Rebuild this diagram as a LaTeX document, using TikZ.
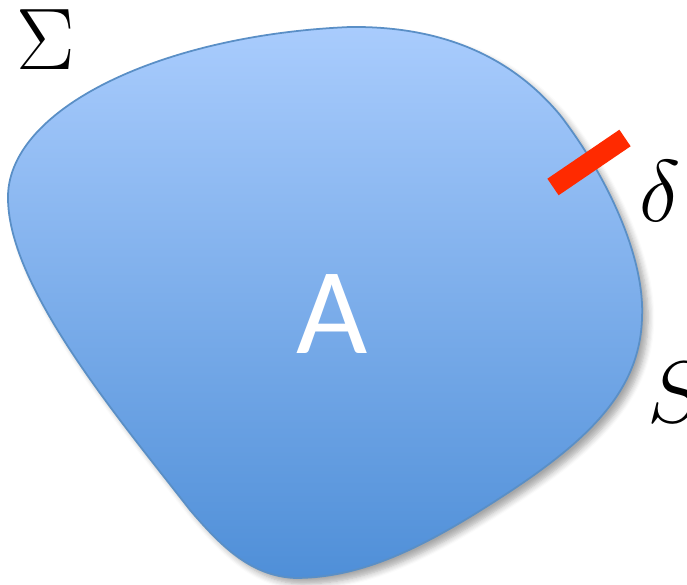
\documentclass[tikz,border=0pt]{standalone}
\usepackage{fontspec}
\usepackage{tikz}
\usetikzlibrary{calc,shadows.blur}
\newfontfamily\regionfont{Carlito}
\definecolor{blobtop}{HTML}{A9CCFD}
\definecolor{blobbot}{HTML}{4F8FD8}
\definecolor{blobline}{HTML}{5A8FC6}
\definecolor{cutred}{HTML}{FF2A00}
\tikzset{
  blob/.style={draw=blobline, line width=0.5pt, top color=blobtop,
               bottom color=blobbot,
               blur shadow={shadow xshift=0.6mm, shadow yshift=-0.6mm,
                            shadow blur steps=6, shadow opacity=35}},
  cut/.style={draw=cutred, line width=2mm, line cap=butt},
  mlbl/.style={font=\fontsize{27}{30}\selectfont, inner sep=0pt},
  rlbl/.style={font=\regionfont\fontsize{35}{40}\selectfont, text=white,
               inner sep=0pt},
}
\begin{document}
\begin{tikzpicture}[x=0.01cm, y=0.01cm]
  \useasboundingbox (0,0) rectangle (687,585);
  % region A
  \path[blob] (8,385) .. controls (5,475) and (160,550) .. (350,558)
    .. controls (440,559) and (510,530) .. (560,470)
    .. controls (610,405) and (645,325) .. (642,267)
    .. controls (640,195) and (590,145) .. (500,87)
    .. controls (420,35) and (360,7) .. (295,7)
    .. controls (250,9) and (220,40) .. (190,75)
    .. controls (120,165) and (10,295) .. cycle;
  \node[rlbl] (a) at (332,271) {A};
  % small piece of the boundary
  \coordinate (d1) at (553,398);
  \coordinate (d2) at (625,447);
  \draw[cut] (d1) -- (d2);
  \node[mlbl] (sigma) at (46,545) {$\Sigma$};
  \node[mlbl] (delta) at (660,394) {$\delta$};
  \node[mlbl] (s) at (676,192) {$S$};
\end{tikzpicture}
\end{document}
